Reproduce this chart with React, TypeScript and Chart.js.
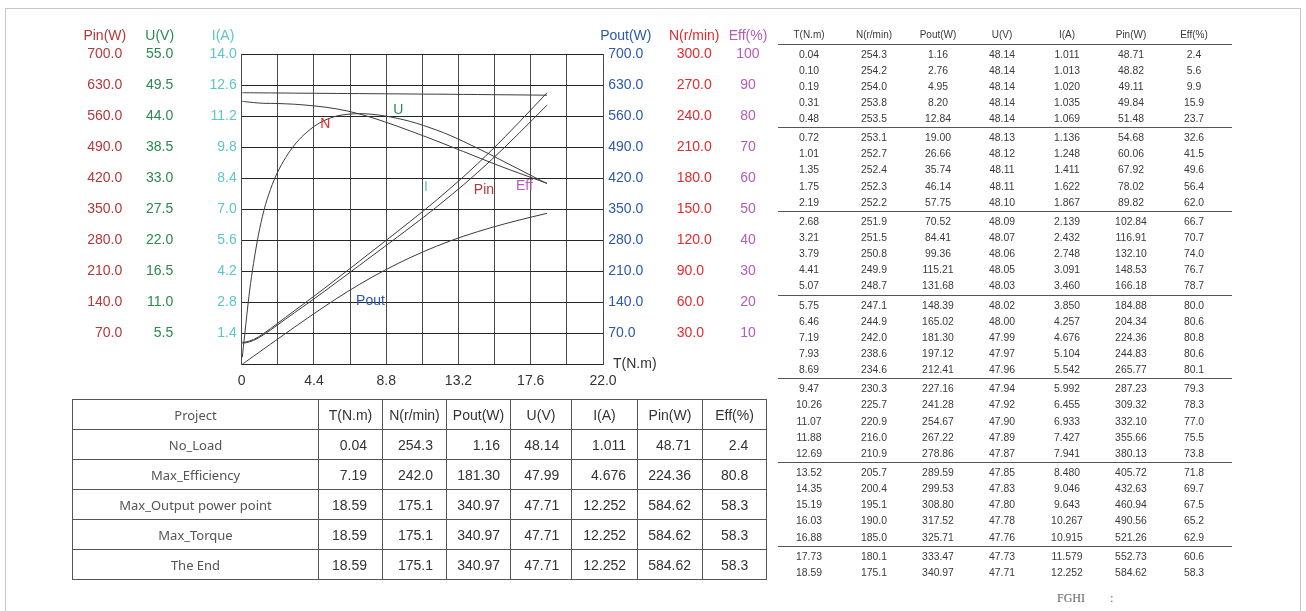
import React, { useEffect, useRef } from 'react';
import { Chart, registerables } from 'chart.js';

Chart.register(...registerables);

const FONT = "'Liberation Sans', Arial, Helvetica, sans-serif";

const torque = [0.04, 0.10, 0.19, 0.31, 0.48, 0.72, 1.01, 1.35, 1.75, 2.19, 2.68, 3.21, 3.79, 4.41, 5.07, 5.75, 6.46, 7.19, 7.93, 8.69, 9.47, 10.26, 11.07, 11.88, 12.69, 13.52, 14.35, 15.19, 16.03, 16.88, 17.73, 18.59];
const speed = [254.3, 254.2, 254.0, 253.8, 253.5, 253.1, 252.7, 252.4, 252.3, 252.2, 251.9, 251.5, 250.8, 249.9, 248.7, 247.1, 244.9, 242.0, 238.6, 234.6, 230.3, 225.7, 220.9, 216.0, 210.9, 205.7, 200.4, 195.1, 190.0, 185.0, 180.1, 175.1];
const poutW = [1.16, 2.76, 4.95, 8.20, 12.84, 19.00, 26.66, 35.74, 46.14, 57.75, 70.52, 84.41, 99.36, 115.21, 131.68, 148.39, 165.02, 181.30, 197.12, 212.41, 227.16, 241.28, 254.67, 267.22, 278.86, 289.59, 299.53, 308.80, 317.52, 325.71, 333.47, 340.97];
const voltage = [48.14, 48.14, 48.14, 48.14, 48.14, 48.13, 48.12, 48.11, 48.11, 48.10, 48.09, 48.07, 48.06, 48.05, 48.03, 48.02, 48.00, 47.99, 47.97, 47.96, 47.94, 47.92, 47.90, 47.89, 47.87, 47.85, 47.83, 47.80, 47.78, 47.76, 47.73, 47.71];
const current = [1.011, 1.013, 1.020, 1.035, 1.069, 1.136, 1.248, 1.411, 1.622, 1.867, 2.139, 2.432, 2.748, 3.091, 3.460, 3.850, 4.257, 4.676, 5.104, 5.542, 5.992, 6.455, 6.933, 7.427, 7.941, 8.480, 9.046, 9.643, 10.267, 10.915, 11.579, 12.252];
const pinW = [48.71, 48.82, 49.11, 49.84, 51.48, 54.68, 60.06, 67.92, 78.02, 89.82, 102.84, 116.91, 132.10, 148.53, 166.18, 184.88, 204.34, 224.36, 244.83, 265.77, 287.23, 309.32, 332.10, 355.66, 380.13, 405.72, 432.63, 460.94, 490.56, 521.26, 552.73, 584.62];
const eff = [2.4, 5.6, 9.9, 15.9, 23.7, 32.6, 41.5, 49.6, 56.4, 62.0, 66.7, 70.7, 74.0, 76.7, 78.7, 80.0, 80.6, 80.8, 80.6, 80.1, 79.3, 78.3, 77.0, 75.5, 73.8, 71.8, 69.7, 67.5, 65.2, 62.9, 60.6, 58.3];

const tableHeaders = ['T(N.m)', 'N(r/min)', 'Pout(W)', 'U(V)', 'I(A)', 'Pin(W)', 'Eff(%)'];
const tableColumns = [torque, speed, poutW, voltage, current, pinW, eff];
const tableDecimals = [2, 1, 2, 2, 3, 2, 1];

const summaryNames = ['No_Load', 'Max_Efficiency', 'Max_Output power point', 'Max_Torque', 'The End'];
const summaryRowIndex = [0, 17, 31, 31, 31];

// curve captions: text, T value, axis, axis value, colour
const curveLabels = [
  { text: 'N', t: 5.09, axis: 'yN', v: 232, color: '#e42a2a' },
  { text: 'U', t: 9.54, axis: 'yU', v: 45.1, color: '#2a8a4c' },
  { text: 'I', t: 11.22, axis: 'yI', v: 8.02, color: '#5cc6c8' },
  { text: 'Pin', t: 14.75, axis: 'yPin', v: 393.6, color: '#b3383a' },
  { text: 'Eff', t: 17.21, axis: 'yEff', v: 57.6, color: '#b55cb5' },
  { text: 'Pout', t: 7.84, axis: 'yPout', v: 143.5, color: '#2d5aa8' },
];

const axisTitles = [
  { text: 'Pin(W)', axis: 'yPin', color: '#b3383a' },
  { text: 'U(V)', axis: 'yU', color: '#2a8a4c' },
  { text: 'I(A)', axis: 'yI', color: '#5cc6c8' },
  { text: 'Pout(W)', axis: 'yPout', color: '#2d5aa8' },
  { text: 'N(r/min)', axis: 'yN', color: '#e42a2a' },
  { text: 'Eff(%)', axis: 'yEff', color: '#b55cb5' },
];

const overlayPlugin = {
  id: 'overlay',
  afterDraw(chart: any) {
    const ctx = chart.ctx;
    const area = chart.chartArea;
    ctx.save();
    ctx.font = `14px ${FONT}`;
    ctx.textBaseline = 'middle';
    ctx.textAlign = 'center';
    for (const t of axisTitles) {
      const s = chart.scales[t.axis];
      const pad = s.options.ticks.padding;
      let widest = 0;
      s.ticks.forEach((tk: any) => {
        if (tk.label) widest = Math.max(widest, ctx.measureText(String(tk.label)).width);
      });
      const cx = s.position === 'left' ? s.right - pad - widest / 2 : s.left + pad + widest / 2;
      ctx.fillStyle = t.color;
      ctx.fillText(t.text, cx, area.top - 18);
    }
    for (const l of curveLabels) {
      ctx.fillStyle = l.color;
      ctx.fillText(l.text, chart.scales.x.getPixelForValue(l.t), chart.scales[l.axis].getPixelForValue(l.v));
    }
    ctx.textAlign = 'left';
    ctx.fillStyle = '#333';
    ctx.fillText('T(N.m)', area.right + 10, area.bottom - 1);
    ctx.restore();
  },
};

function yAxis(opts: {
  position: 'left' | 'right'; weight: number; max: number; step: number; color: string;
  padding: number; width: number; decimals: number; grid?: boolean; crossAlign?: string;
}) {
  return {
    type: 'linear',
    position: opts.position,
    weight: opts.weight,
    min: 0,
    max: opts.max,
    ticks: {
      stepSize: opts.step,
      padding: opts.padding,
      color: opts.color,
      crossAlign: opts.crossAlign || 'near',
      font: { family: FONT, size: 14 },
      callback: (v: any) => (Number(v) === 0 ? '' : Number(v).toFixed(opts.decimals)),
    },
    grid: { display: !!opts.grid, color: '#262626', lineWidth: 1, drawTicks: false },
    border: { display: false },
    afterFit: (s: any) => { s.width = opts.width; },
  };
}

function MotorChart() {
  const ref = useRef<HTMLCanvasElement | null>(null);
  useEffect(() => {
    if (!ref.current) return;
    const mk = (vals: number[], axis: string) => ({
      data: torque.map((t, i) => ({ x: t, y: vals[i] })),
      yAxisID: axis,
      borderColor: '#3c3c3c',
      borderWidth: 1,
      pointRadius: 0,
      fill: false,
      cubicInterpolationMode: 'monotone' as const,
    });
    const chart = new Chart(ref.current, {
      type: 'line',
      data: {
        datasets: [
          mk(voltage, 'yU'),
          mk(speed, 'yN'),
          mk(eff, 'yEff'),
          mk(current, 'yI'),
          mk(pinW, 'yPin'),
          mk(poutW, 'yPout'),
        ],
      },
      options: {
        animation: false,
        responsive: false,
        events: [],
        layout: { padding: { left: 70, top: 54, right: 0, bottom: 0 } },
        plugins: { legend: { display: false }, tooltip: { enabled: false } },
        scales: {
          x: {
            type: 'linear',
            position: 'bottom',
            min: 0,
            max: 22,
            ticks: {
              stepSize: 2.2,
              autoSkip: false,
              maxRotation: 0,
              padding: 8.5,
              color: '#333',
              font: { family: FONT, size: 14 },
              callback: (v: any, i: number) => (i % 2 === 0 ? (i === 0 ? '0' : Number(v).toFixed(1)) : ''),
            },
            grid: { color: '#4a4a4a', lineWidth: 1, drawTicks: false },
            border: { display: false },
            afterFit: (s: any) => { s.height = 35.3; },
          },
          yPin: yAxis({ position: 'left', weight: 3, max: 700, step: 70, color: '#b3383a', padding: 7.7, width: 60, decimals: 1, grid: true }),
          yU: yAxis({ position: 'left', weight: 2, max: 55, step: 5.5, color: '#2a8a4c', padding: 6.7, width: 50, decimals: 1 }),
          yI: yAxis({ position: 'left', weight: 1, max: 14, step: 1.4, color: '#5cc6c8', padding: 5, width: 61.7, decimals: 1 }),
          yPout: yAxis({ position: 'right', weight: 1, max: 700, step: 70, color: '#2d5aa8', padding: 5.3, width: 67, decimals: 1 }),
          yN: yAxis({ position: 'right', weight: 2, max: 300, step: 30, color: '#e42a2a', padding: 6.7, width: 50, decimals: 1 }),
          yEff: yAxis({ position: 'right', weight: 3, max: 100, step: 10, color: '#b55cb5', padding: 16.3, width: 60, decimals: 0, crossAlign: 'center' }),
        } as any,
      },
      plugins: [overlayPlugin],
    } as any);
    return () => chart.destroy();
  }, []);
  return (
    <canvas
      ref={ref}
      width={780}
      height={400}
      style={{ position: 'absolute', left: 0, top: 0, width: 780, height: 400 }}
    />
  );
}

const summaryWidths = [246, 64, 64, 64, 61, 66, 65, 64];
const summaryPadRight = [0, 15, 13, 10, 11.7, 11, 11, 17.7];
const smallWidths = [62, 68, 60, 68, 62, 66, 60];

function SummaryTable() {
  const cellBase: React.CSSProperties = {
    border: '1px solid #555',
    height: 29,
    padding: 0,
    fontFamily: FONT,
    fontSize: 14,
    color: '#333',
    whiteSpace: 'nowrap',
    overflow: 'hidden',
  };
  const nameCell: React.CSSProperties = { ...cellBase, fontFamily: "'Noto Sans', sans-serif", fontSize: 13, color: '#555', textAlign: 'center' };
  return (
    <table
      style={{
        position: 'absolute', left: 72, top: 399, width: 694, borderCollapse: 'collapse', tableLayout: 'fixed',
      }}
    >
      <colgroup>
        {summaryWidths.map((w, i) => <col key={i} style={{ width: w }} />)}
      </colgroup>
      <tbody>
        <tr>
          <td style={nameCell}>Project</td>
          {tableHeaders.map((h) => (
            <td key={h} style={{ ...cellBase, textAlign: 'center' }}>{h}</td>
          ))}
        </tr>
        {summaryNames.map((name, r) => (
          <tr key={name}>
            <td style={nameCell}>{name}</td>
            {tableColumns.map((col, c) => (
              <td key={c} style={{ ...cellBase, textAlign: 'right', paddingRight: summaryPadRight[c + 1] }}>
                {col[summaryRowIndex[r]].toFixed(tableDecimals[c])}
              </td>
            ))}
          </tr>
        ))}
      </tbody>
    </table>
  );
}

function DataTable() {
  const groups: number[][] = [];
  for (let i = 0; i < torque.length; i += 5) {
    groups.push(torque.slice(i, i + 5).map((_, k) => i + k));
  }
  const cell = (w: number): React.CSSProperties => ({ width: w, textAlign: 'center', flex: 'none' });
  return (
    <div style={{ position: 'absolute', left: 778, top: 27, width: 454, fontFamily: FONT, color: '#3a3a3a' }}>
      <div style={{ display: 'flex', height: 16.5, lineHeight: '16px', fontSize: 10 }}>
        {tableHeaders.map((h, c) => <div key={h} style={cell(smallWidths[c])}>{h}</div>)}
      </div>
      {groups.map((g, gi) => (
        <div key={gi} style={{ borderTop: '1px solid #555', paddingTop: 2 }}>
          {g.map((ri) => (
            <div key={ri} style={{ display: 'flex', height: 16.15, lineHeight: '16.15px', fontSize: 10.4 }}>
              {tableColumns.map((col, c) => (
                <div key={c} style={cell(smallWidths[c])}>{col[ri].toFixed(tableDecimals[c])}</div>
              ))}
            </div>
          ))}
        </div>
      ))}
    </div>
  );
}

export default function App() {
  return (
    <div style={{ position: 'absolute', left: 0, top: 0, width: 1306, height: 611, background: '#fff', overflow: 'hidden' }}>
      <div style={{ position: 'absolute', left: 5, top: 8, width: 1296, height: 700, border: '1px solid #c8c8c8', boxSizing: 'border-box' }} />
      <MotorChart />
      <SummaryTable />
      <DataTable />
      <div style={{ position: 'absolute', left: 1057, top: 590, fontFamily: "'Liberation Serif', 'DejaVu Serif', serif", fontSize: 12, color: '#666', lineHeight: '16px' }}>FGHI</div>
      <div style={{ position: 'absolute', left: 1110, top: 590, fontFamily: "'Liberation Serif', 'DejaVu Serif', serif", fontSize: 12, color: '#666', lineHeight: '16px' }}>:</div>
    </div>
  );
}
